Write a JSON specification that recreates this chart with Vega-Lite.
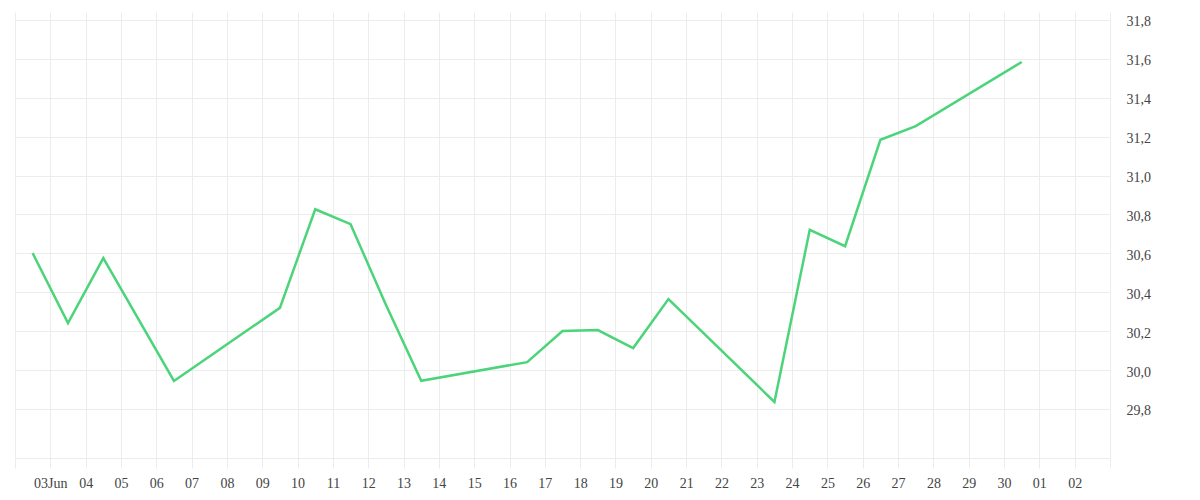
{
  "$schema": "https://vega.github.io/schema/vega-lite/v6.json",
  "autosize": "none",
  "width": 1095,
  "height": 446,
  "padding": {"left": 15, "top": 12, "right": 90, "bottom": 42},
  "background": "white",
  "config": {
    "view": {"stroke": null},
    "font": "Liberation Serif"
  },
  "data": {
    "values": [
      {"date": "2025-06-02T12:00:00", "value": 30.601},
      {"date": "2025-06-03T12:00:00", "value": 30.242},
      {"date": "2025-06-04T12:00:00", "value": 30.576},
      {"date": "2025-06-06T12:00:00", "value": 29.944},
      {"date": "2025-06-09T12:00:00", "value": 30.320},
      {"date": "2025-06-10T12:00:00", "value": 30.827},
      {"date": "2025-06-11T12:00:00", "value": 30.750},
      {"date": "2025-06-12T12:00:00", "value": 30.336},
      {"date": "2025-06-13T12:00:00", "value": 29.945},
      {"date": "2025-06-16T12:00:00", "value": 30.041},
      {"date": "2025-06-17T12:00:00", "value": 30.201},
      {"date": "2025-06-18T12:00:00", "value": 30.206},
      {"date": "2025-06-19T12:00:00", "value": 30.113},
      {"date": "2025-06-20T12:00:00", "value": 30.365},
      {"date": "2025-06-23T12:00:00", "value": 29.836},
      {"date": "2025-06-24T12:00:00", "value": 30.721},
      {"date": "2025-06-25T12:00:00", "value": 30.637},
      {"date": "2025-06-26T12:00:00", "value": 31.184},
      {"date": "2025-06-27T12:00:00", "value": 31.254},
      {"date": "2025-06-30T12:00:00", "value": 31.584}
    ]
  },
  "mark": {"type": "line", "color": "#4cd47a", "strokeWidth": 2.5, "interpolate": "linear"},
  "encoding": {
    "x": {
      "field": "date",
      "type": "temporal",
      "title": null,
      "scale": {
        "domain": [
          {"year": 2025, "month": 6, "date": 2},
          {"year": 2025, "month": 7, "date": 3}
        ],
        "nice": false
      },
      "axis": {
        "tickCount": {"interval": "day", "step": 1},
        "grid": true,
        "gridColor": "#ececec",
        "tickColor": "#ececec",
        "tickSize": 10,
        "domainColor": "#ececec",
        "labelPadding": 8,
        "labelFontSize": 14,
        "labelColor": "#444",
        "labelFlush": false,
        "labelOverlap": false,
        "labelExpr": "(month(datum.value) == 5 && date(datum.value) == 3) ? '03Jun' : ((month(datum.value) == 5 && date(datum.value) == 2) || (month(datum.value) == 6 && date(datum.value) == 3)) ? '' : timeFormat(datum.value, '%d')"
      }
    },
    "y": {
      "field": "value",
      "type": "quantitative",
      "title": null,
      "scale": {"domain": [29.548, 31.841], "nice": false, "zero": false},
      "axis": {
        "orient": "right",
        "values": [29.8, 30.0, 30.2, 30.4, 30.6, 30.8, 31.0, 31.2, 31.4, 31.6, 31.8],
        "grid": true,
        "gridColor": "#ececec",
        "ticks": false,
        "domain": false,
        "labelPadding": 16,
        "labelFontSize": 14,
        "labelColor": "#444",
        "labelOffset": 2,
        "labelExpr": "replace(format(datum.value, '.1f'), '.', ',')"
      }
    }
  }
}
